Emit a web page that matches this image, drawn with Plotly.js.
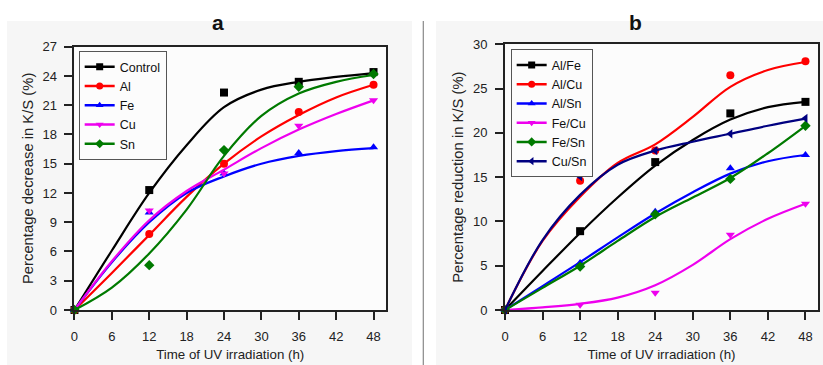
<!DOCTYPE html>
<html>
<head>
<meta charset="utf-8">
<script src="https://cdn.plot.ly/plotly-3.0.1.min.js"></script>
<style>html,body{margin:0;padding:0;background:#fff}#chart{width:823px;height:365px}</style>
</head>
<body>
<div id="chart"></div>
<script>
// ---------- Panel a data ----------
const timePoints = [0, 12, 24, 36, 48];
const curveTimes = [0, 6, 12, 18, 24, 30, 36, 42, 48];

const seriesA = ["Control", "Al", "Fe", "Cu", "Sn"];
const pointsA_Control = [0, 12.3, 22.3, 23.4, 24.4];
const pointsA_Al      = [0, 7.8, 15.0, 20.3, 23.1];
const pointsA_Fe      = [0, 10.0, 14.0, 16.1, 16.7];
const pointsA_Cu      = [0, 10.2, 14.0, 18.9, 21.5];
const pointsA_Sn      = [0, 4.6, 16.4, 22.9, 24.2];

const curveA_Control = [0, 6.1, 12.0, 16.9, 20.8, 22.6, 23.4, 23.9, 24.3];
const curveA_Al      = [0, 3.8, 7.7, 11.6, 15.0, 17.8, 20.0, 21.8, 23.1];
const curveA_Fe      = [0, 4.9, 9.0, 12.0, 13.7, 15.0, 15.8, 16.3, 16.6];
const curveA_Cu      = [0, 5.0, 9.2, 12.2, 14.4, 16.6, 18.5, 20.1, 21.5];
const curveA_Sn      = [0, 2.3, 5.8, 10.3, 15.8, 19.9, 22.2, 23.4, 24.1];

// ---------- Panel b data ----------
const seriesB = ["Al/Fe", "Al/Cu", "Al/Sn", "Fe/Cu", "Fe/Sn", "Cu/Sn"];
const pointsB_AlFe = [0, 8.9, 16.7, 22.2, 23.5];
const pointsB_AlCu = [0, 14.6, 18.0, 26.5, 28.1];
const pointsB_AlSn = [0, 5.3, 11.1, 16.0, 17.5];
const pointsB_FeCu = [0, 0.6, 1.95, 8.5, 12.0];
const pointsB_FeSn = [0, 4.9, 10.8, 14.8, 20.8];
const pointsB_CuSn = [0, 15.05, 18.0, 19.9, 21.65];

const curveB_AlFe = [0, 4.4, 8.7, 12.7, 16.3, 19.2, 21.5, 22.9, 23.5];
const curveB_AlCu = [0, 7.8, 12.8, 16.6, 18.7, 21.8, 25.2, 27.1, 28.0];
const curveB_AlSn = [0, 2.7, 5.4, 8.2, 10.9, 13.3, 15.4, 16.8, 17.5];
const curveB_FeCu = [0, 0.3, 0.7, 1.4, 2.8, 5.1, 8.0, 10.3, 12.0];
const curveB_FeSn = [0, 2.5, 5.0, 7.8, 10.5, 12.7, 14.9, 17.7, 20.8];
const curveB_CuSn = [0, 7.9, 13.0, 16.4, 18.0, 19.0, 19.9, 20.8, 21.6];

const xTicks = [0, 6, 12, 18, 24, 30, 36, 42, 48];

// ---------- styles ----------
const colorsA = ["#000000", "#ff0000", "#0000ff", "#ee00ee", "#007a00"];
const symbolsA = ["square", "circle", "triangle-up", "triangle-down", "diamond"];
const colorsB = ["#000000", "#ff0000", "#0000ff", "#ee00ee", "#007a00", "#000080"];
const symbolsB = ["square", "circle", "triangle-up", "triangle-down", "diamond", "triangle-left"];

const pointsA = [pointsA_Control, pointsA_Al, pointsA_Fe, pointsA_Cu, pointsA_Sn];
const curvesA = [curveA_Control, curveA_Al, curveA_Fe, curveA_Cu, curveA_Sn];
const pointsB = [pointsB_AlFe, pointsB_AlCu, pointsB_AlSn, pointsB_FeCu, pointsB_FeSn, pointsB_CuSn];
const curvesB = [curveB_AlFe, curveB_AlCu, curveB_AlSn, curveB_FeCu, curveB_FeSn, curveB_CuSn];

const traces = [];
function addPanel(names, pts, curves, colors, symbols, xa, ya, legendId) {
  names.forEach((name, i) => {
    traces.push({
      x: curveTimes, y: curves[i], xaxis: xa, yaxis: ya, mode: "lines",
      line: {color: colors[i], width: 2.2, shape: "spline", smoothing: 1},
      showlegend: false, hoverinfo: "skip"
    });
    traces.push({
      x: timePoints, y: pts[i], xaxis: xa, yaxis: ya, mode: "markers",
      marker: {color: colors[i], symbol: symbols[i], size: 8},
      showlegend: false, cliponaxis: false
    });
  });
  names.forEach((name, i) => {
    traces.push({
      x: [null], y: [null], xaxis: xa, yaxis: ya, mode: "lines+markers", name: name,
      line: {color: colors[i], width: 2.5},
      marker: {color: colors[i], symbol: symbols[i], size: 7},
      legend: legendId
    });
  });
}
addPanel(seriesA, pointsA, curvesA, colorsA, symbolsA, "x", "y", "legend");
addPanel(seriesB, pointsB, curvesB, colorsB, symbolsB, "x2", "y2", "legend2");

const fontFam = "Liberation Sans, Arial, sans-serif";
const axisCommon = {
  showline: true, linewidth: 2, linecolor: "#222", mirror: true,
  ticks: "outside", ticklen: 8, tickwidth: 2, tickcolor: "#222",
  showgrid: false, zeroline: false,
  tickfont: {family: fontFam, size: 13, color: "#222"}
};
const xTitleFont = {family: fontFam, size: 13.3, color: "#222"};
const yTitleFont = {family: fontFam, size: 14.8, color: "#222"};

const legendCommon = {
  xanchor: "left", yanchor: "top", bgcolor: "#fcfcfc",
  bordercolor: "#555", borderwidth: 1,
  font: {family: fontFam, size: 12.5, color: "#111"},
  tracegroupgap: 0, itemwidth: 30
};

const layout = {
  width: 823, height: 365,
  margin: {l: 0, r: 0, t: 0, b: 0},
  paper_bgcolor: "#ffffff", plot_bgcolor: "#fcfcfc",
  showlegend: true,
  xaxis: Object.assign({}, axisCommon, {
    domain: [0.0905, 0.469], range: [0, 50], tickvals: xTicks, anchor: "y", ticklabelstandoff: 5,
    title: {text: "Time of UV irradiation (h)", font: xTitleFont, standoff: 7}
  }),
  yaxis: Object.assign({}, axisCommon, {
    domain: [0.1507, 0.872], range: [0, 27], dtick: 3, anchor: "x", ticklabelstandoff: 5,
    title: {text: "Percentage decrease in K/S (%)", font: yTitleFont, standoff: 5}
  }),
  xaxis2: Object.assign({}, axisCommon, {
    domain: [0.6136, 0.9939], range: [0, 50], tickvals: xTicks, anchor: "y2", ticklabelstandoff: 5,
    title: {text: "Time of UV irradiation (h)", font: xTitleFont, standoff: 7}
  }),
  yaxis2: Object.assign({}, axisCommon, {
    domain: [0.1507, 0.8786], range: [0, 30], dtick: 5, anchor: "x2", ticklabelstandoff: 5,
    title: {text: "Percentage reduction in K/S (%)", font: yTitleFont, standoff: 6}
  }),
  legend: Object.assign({}, legendCommon, {x: 0.0956, y: 0.860}),
  legend2: Object.assign({}, legendCommon, {x: 0.6205, y: 0.865}),
  shapes: [
    {type: "rect", xref: "paper", yref: "paper", x0: 7/823, x1: 412/823, y0: 0, y1: 1 - 21/365,
     fillcolor: "#f6f6f6", line: {width: 0}, layer: "below"},
    {type: "rect", xref: "paper", yref: "paper", x0: 436/823, x1: 1, y0: 0, y1: 1 - 21/365,
     fillcolor: "#f6f6f6", line: {width: 0}, layer: "below"},
    {type: "rect", xref: "x domain", yref: "y domain", x0: 0, x1: 1, y0: 0, y1: 1,
     fillcolor: "#fcfcfc", line: {width: 0}, layer: "below"},
    {type: "rect", xref: "x2 domain", yref: "y2 domain", x0: 0, x1: 1, y0: 0, y1: 1,
     fillcolor: "#fcfcfc", line: {width: 0}, layer: "below"},
    {type: "line", xref: "paper", yref: "paper", x0: 423.3/823, x1: 423.3/823, y0: 0, y1: 1 - 21/365,
     line: {color: "#888", width: 1.2}}
  ],
  annotations: [
    {text: "<b>a</b>", xref: "paper", yref: "paper", x: 217.7/823, y: 1 - 22.5/365,
     xanchor: "center", yanchor: "middle", showarrow: false, font: {family: fontFam, size: 21, color: "#111"}},
    {text: "<b>b</b>", xref: "paper", yref: "paper", x: 635/823, y: 1 - 22.5/365,
     xanchor: "center", yanchor: "middle", showarrow: false, font: {family: fontFam, size: 21, color: "#111"}}
  ]
};

Plotly.newPlot("chart", traces, layout, {staticPlot: true, displayModeBar: false});
</script>
</body>
</html>
